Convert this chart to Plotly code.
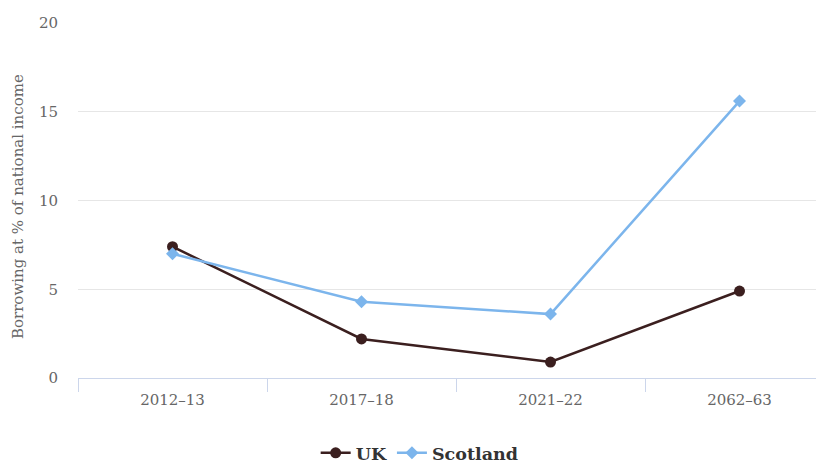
import plotly.graph_objects as go

# Borrowing as % of national income
years = ["2012–13", "2017–18", "2021–22", "2062–63"]
uk = [7.4, 2.2, 0.9, 4.9]
scotland = [7.0, 4.3, 3.6, 15.6]

font = "DejaVu Serif"

fig = go.Figure()
fig.add_trace(go.Scatter(
    x=years, y=uk, name="UK", mode="lines+markers",
    line=dict(color="#3b1f1f", width=2.5),
    marker=dict(symbol="circle", size=11, color="#3b1f1f"),
))
fig.add_trace(go.Scatter(
    x=years, y=scotland, name="Scotland", mode="lines+markers",
    line=dict(color="#7cb5ec", width=2.5),
    marker=dict(symbol="diamond", size=10, color="#7cb5ec"),
))

fig.update_layout(
    width=824, height=463,
    margin=dict(l=70, r=8, t=15, b=93, autoexpand=False),
    paper_bgcolor="white", plot_bgcolor="white",
    font=dict(family=font, color="#666666", size=15),
    showlegend=True,
    legend=dict(
        orientation="h", x=0.458, xanchor="center", y=-0.211, yanchor="middle",
        font=dict(family=font, size=17.5, color="#333333", weight="bold"),
        itemwidth=30,
    ),
)
# y-axis title as a rotated annotation so it can sit where the original does
fig.add_annotation(
    text="Borrowing at % of national income",
    xref="paper", yref="paper", x=-0.0811, y=0.483,
    xanchor="center", yanchor="middle", textangle=-90, showarrow=False,
    font=dict(family=font, size=15, color="#666666"),
)
fig.update_xaxes(
    type="category", range=[-0.5, 3.447], automargin=False,
    showgrid=False, showline=True, linecolor="#ccd6eb", linewidth=1,
    ticks="outside", tickson="boundaries", ticklen=13, tickcolor="#ccd6eb",
    ticklabelstandoff=8,
    tickfont=dict(size=15, color="#666666"),
)
fig.update_yaxes(
    range=[0, 20], dtick=5, showgrid=True, gridcolor="#e6e6e6",
    zeroline=False, showline=False, ticks="", ticklabelstandoff=19,
    automargin=False,
    tickfont=dict(size=15, color="#666666"),
)

fig.write_html("out.html")
